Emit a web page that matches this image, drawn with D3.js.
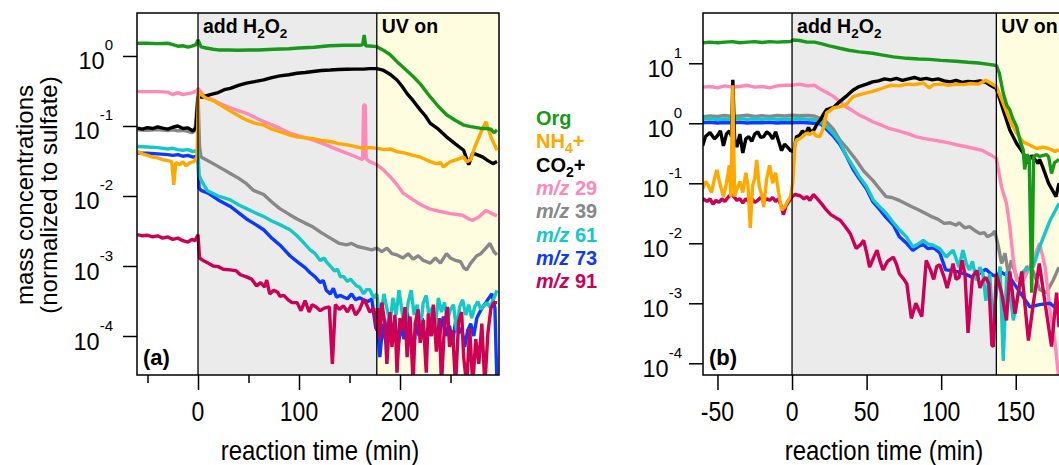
<!DOCTYPE html>
<html><head><meta charset="utf-8">
<script src="https://cdn.jsdelivr.net/npm/d3@7"></script>
<style>
body{margin:0;background:#fff;}
svg{display:block;font-family:"Liberation Sans",Arial,Helvetica,sans-serif;}
</style></head><body>
<svg id="c" width="1059" height="465"></svg>
<script>
// ---------------- DATA ----------------
const seriesKeys = ["mz39","mz29","mz73","mz61","mz91","co2","nh4","org"];
const legendLabels = ["Org","NH4+","CO2+","m/z 29","m/z 39","m/z 61","m/z 73","m/z 91"];
const phasesA = [0, 177];      // add H2O2, UV on (min)
const phasesB = [0, 137];
const xTicksAmajor = [0, 100, 200];
const xTicksAminor = [-50, 50, 150, 250];
const xTicksB = [-50, 0, 50, 100, 150];
const yTicksA = [1, 0.1, 0.01, 0.001, 0.0001];
const yExpA = ["0", "-1", "-2", "-3", "-4"];
const yTicksB = [10, 1, 0.1, 0.01, 0.001, 0.0001];
const yExpB = ["1", "0", "-1", "-2", "-3", "-4"];

// panel (a)
const a_org = [[-60,1.52],[-50,1.52],[-40,1.5],[-30,1.52],[-25,1.45],[-20,1.38],[-15,1.4],[-10,1.34],[-6,1.38],[-2,1.45],[0,1.7],[3,1.35],[8,1.3],[15,1.25],[20,1.22],[30,1.22],[40,1.21],[50,1.22],[60,1.22],[75,1.25],[90,1.27],[100,1.3],[115,1.33],[130,1.4],[145,1.42],[160,1.42],[163,1.45],[164.5,2.0],[166,1.4],[170,1.39],[177,1.36],[183,1.22],[190,1.05],[197,0.83],[205,0.65],[213,0.51],[220,0.4],[230,0.26],[238,0.19],[246,0.145],[255,0.12],[263,0.103],[270,0.098],[279,0.093],[285,0.092],[290,0.09],[293,0.08],[296,0.088]];
const a_co2 = [[-60,0.093],[-55,0.09],[-50,0.095],[-45,0.092],[-40,0.097],[-35,0.093],[-30,0.09],[-25,0.096],[-20,0.1],[-15,0.092],[-10,0.094],[-5,0.085],[-2,0.095],[0,0.26],[5,0.26],[12,0.28],[20,0.3],[26,0.33],[32,0.345],[40,0.38],[48,0.41],[56,0.43],[65,0.455],[73,0.49],[81,0.52],[90,0.54],[98,0.566],[106,0.58],[114,0.6],[122,0.62],[131,0.63],[139,0.64],[147,0.645],[155,0.65],[164,0.65],[170,0.66],[177,0.66],[183,0.63],[190,0.55],[197,0.454],[202,0.37],[207,0.29],[213,0.23],[220,0.17],[225,0.14],[230,0.109],[238,0.09],[246,0.07],[255,0.055],[263,0.045],[268,0.028],[272,0.041],[278,0.038],[282,0.036],[287,0.032],[292,0.029],[296,0.031]];
const a_nh4 = [[-60,0.043],[-55,0.04],[-50,0.038],[-45,0.036],[-40,0.035],[-35,0.033],[-30,0.032],[-26,0.031],[-24,0.0144],[-22,0.03],[-18,0.028],[-15,0.031],[-12,0.027],[-8,0.03],[-4,0.031],[-1,0.036],[0.5,0.31],[3,0.28],[8,0.25],[15,0.23],[22,0.2],[30,0.17],[40,0.14],[48,0.122],[56,0.11],[65,0.103],[73,0.09],[81,0.083],[90,0.075],[98,0.07],[106,0.068],[114,0.066],[122,0.062],[131,0.06],[139,0.056],[147,0.054],[155,0.051],[164,0.048],[170,0.049],[177,0.048],[185,0.046],[190,0.047],[197,0.043],[205,0.041],[213,0.038],[220,0.036],[226,0.033],[230,0.031],[236,0.029],[240,0.03],[243,0.026],[247,0.029],[250,0.031],[256,0.033],[263,0.036],[266,0.031],[270,0.033],[274,0.05],[280,0.08],[285,0.115],[290,0.07],[296,0.045]];
const a_mz29 = [[-60,0.31],[-50,0.31],[-40,0.31],[-30,0.305],[-25,0.28],[-20,0.3],[-15,0.28],[-10,0.29],[-5,0.3],[-1,0.32],[0,0.345],[5,0.28],[15,0.235],[25,0.2],[35,0.175],[48,0.152],[60,0.125],[70,0.108],[81,0.093],[90,0.08],[100,0.072],[114,0.063],[125,0.055],[135,0.048],[147,0.041],[155,0.037],[163,0.033],[164,0.2],[165.5,0.2],[166.5,0.034],[170,0.031],[177,0.028],[183,0.024],[190,0.019],[197,0.0145],[203,0.011],[213,0.0088],[222,0.0073],[230,0.0065],[240,0.006],[250,0.0056],[262,0.0053],[268,0.0047],[272,0.0045],[278,0.005],[285,0.0062],[290,0.0057],[296,0.0052]];
const a_mz39 = [[-60,0.088],[-50,0.087],[-40,0.089],[-30,0.086],[-25,0.088],[-20,0.085],[-15,0.087],[-10,0.084],[-6,0.08],[-3,0.086],[0,0.3],[1.5,0.05],[3,0.036],[8,0.033],[15,0.029],[25,0.024],[32,0.021],[40,0.018],[48,0.015],[55,0.012],[65,0.0105],[73,0.0082],[81,0.0066],[90,0.0055],[98,0.0047],[106,0.0041],[114,0.0036],[122,0.003],[131,0.0025],[140,0.0021],[147,0.002],[152,0.0021],[158,0.0019],[165,0.0018],[172,0.0017],[177,0.0018],[182,0.0016],[187,0.0018],[192,0.0015],[197,0.00144],[203,0.0013],[208,0.0015],[213,0.00125],[218,0.0014],[223,0.0012],[230,0.0011],[235,0.0013],[240,0.0011],[246,0.0015],[250,0.0013],[255,0.0012],[260,0.00115],[263,0.00095],[266,0.00088],[270,0.0011],[276,0.0014],[280,0.0015],[285,0.0018],[289,0.0021],[293,0.0016],[296,0.00144]];
const a_mz61 = [[-60,0.051],[-50,0.05],[-40,0.049],[-30,0.047],[-25,0.048],[-20,0.046],[-15,0.045],[-10,0.046],[-5,0.043],[-1,0.045],[0,0.045],[1,0.02],[3,0.017],[9,0.012],[20,0.01],[32,0.0088],[40,0.0075],[48,0.0066],[56,0.0058],[65,0.0051],[73,0.0044],[81,0.0039],[91,0.0033],[98,0.0027],[104,0.0022],[111,0.0017],[116,0.0015],[121,0.0012],[125,0.0013],[128,0.0011],[131,0.001],[135,0.00085],[138,0.0009],[141,0.0007],[144,0.00071],[148,0.0006],[151,0.00065],[154,0.00058],[157,0.00052],[160,0.0005],[164,0.0004],[167,0.00046],[170,0.00046],[174,0.00035],[177,0.0004],[178,0.0003],[181,0.00018],[184,0.0004],[187,0.00025],[190,0.00015],[193,0.00035],[196,0.0002],[199,0.00045],[202,0.00022],[205,0.00013],[208,0.0003],[211,0.00045],[214,0.0002],[217,0.00028],[220,0.00012],[223,0.0003],[226,0.00038],[229,0.00018],[232,0.00026],[235,0.00014],[238,0.00035],[241,0.00022],[244,0.0003],[247,0.00017],[250,0.00024],[253,0.00028],[256,0.00012],[259,0.00026],[262,0.00033],[265,0.0002],[268,0.00028],[271,0.00018],[274,0.00026],[277,0.00031],[280,0.00024],[283,0.00027],[286,0.0003],[289,0.00026],[292,0.00032],[296,0.00045]];
const a_mz73 = [[-60,0.041],[-50,0.041],[-40,0.04],[-30,0.039],[-25,0.038],[-20,0.039],[-15,0.037],[-10,0.038],[-5,0.036],[-1,0.037],[0,0.037],[1,0.013],[3,0.012],[10,0.011],[20,0.0088],[32,0.0071],[40,0.0058],[48,0.0047],[56,0.004],[65,0.0033],[73,0.0025],[81,0.002],[91,0.0014],[100,0.0011],[106,0.00095],[111,0.0008],[116,0.0007],[121,0.00058],[124,0.00062],[127,0.00045],[131,0.0004],[134,0.00048],[137,0.00036],[141,0.00038],[144,0.00036],[148,0.00034],[152,0.0004],[156,0.00033],[160,0.00035],[164,0.00033],[168,0.00031],[172,0.00034],[176,0.00013],[178,0.00012],[180,0.00005],[183,0.00015],[186,0.00008],[189,0.0002],[192,0.0001],[195,0.00017],[198,0.00007],[201,0.00014],[204,0.00009],[207,0.00022],[210,0.00012],[213,0.00006],[216,0.00015],[219,0.0001],[222,0.00018],[225,0.00008],[228,0.00013],[231,0.0001],[234,0.00016],[237,0.00007],[240,0.00012],[243,0.00019],[246,0.0001],[249,0.00014],[252,0.00008],[255,0.00016],[258,0.00011],[261,0.00013],[264,0.00007],[267,0.00012],[270,0.00015],[273,0.0001],[276,0.00018],[279,0.00022],[282,0.00026],[285,0.0003],[288,0.00035],[291,0.0004],[294,0.00025],[296,0.00002]];
const a_mz91 = [[-60,0.0028],[-55,0.0027],[-50,0.00275],[-45,0.0026],[-40,0.0027],[-35,0.0025],[-30,0.0026],[-25,0.0024],[-20,0.0025],[-15,0.0023],[-10,0.0022],[-6,0.0024],[-3,0.0023],[0,0.0028],[1.5,0.0013],[5,0.0012],[10,0.0011],[15,0.001],[20,0.00098],[25,0.0009],[32,0.00088],[38,0.00085],[42,0.00075],[48,0.0007],[53,0.00065],[58,0.00052],[62,0.00058],[66,0.0005],[68,0.00063],[71,0.0004],[75,0.00045],[79,0.00042],[81,0.00037],[85,0.00038],[89,0.00033],[93,0.0003],[98,0.0003],[102,0.00023],[106,0.00032],[110,0.00022],[113,0.00028],[117,0.00026],[121,0.00023],[125,0.00025],[130,0.00026],[133,0.00004],[136,0.00028],[140,0.00024],[144,0.00027],[148,0.00022],[152,0.00028],[156,0.0002],[160,0.00024],[164,0.00033],[167,0.00028],[170,0.00022],[174,0.00025],[177,0.00012],[178,0.00025],[180,0.00009],[182,0.0003],[185,0.00015],[187,0.00004],[190,0.00022],[192,0.00007],[195,0.0002],[197,0.00003],[200,0.00018],[202,0.00012],[205,0.00026],[207,0.00005],[210,0.00019],[213,0.00002],[215,0.00015],[218,0.00024],[220,0.00008],[223,0.00017],[226,0.00003],[228,0.00021],[231,0.0001],[233,0.00028],[236,0.00006],[239,0.00018],[241,0.00002],[244,0.00014],[247,0.00026],[249,0.00007],[252,0.00012],[255,0.00002],[258,0.00016],[261,0.00022],[263,0.00005],[266,0.00002],[269,0.00013],[272,0.00002],[275,0.00009],[278,0.00004],[281,0.00015],[284,0.00002],[287,0.00011],[290,0.00025],[293,0.0003],[296,0.0003]];

// panel (b)
const b_org = [[-60,22],[-55,22.5],[-50,22],[-45,22.5],[-40,23],[-35,22],[-30,22.5],[-25,23],[-20,22.2],[-15,23],[-10,22.5],[-5,22.8],[-1,23],[1,24.5],[5,24],[10,22.5],[15,22.5],[20,21],[25,19.5],[32,17.8],[38,16.5],[45,15.5],[54,14.7],[60,13.8],[68,12.8],[77,12.1],[85,11.8],[92,11.6],[100,11.2],[110,10.8],[118,10.4],[125,10.1],[132,9.6],[137,9.2],[139,6.8],[141.6,3.2],[144,2.0],[146,1.67],[148,1.2],[150.6,0.88],[153,0.5],[155,0.36],[156,0.17],[157.5,0.3],[159,0.27],[160.7,0.0015],[162,0.28],[164,0.3],[166,0.28],[170.5,0.3],[172,0.28],[174,0.146],[176,0.22],[179,0.25]];
const b_co2 = [[-60,0.42],[-58,0.6],[-55,0.7],[-52,0.55],[-50,0.62],[-48,0.75],[-46,0.42],[-44,0.66],[-42,0.75],[-40.5,0.6],[-39.7,5.3],[-38.5,0.55],[-37,0.4],[-35,0.66],[-33,0.32],[-31,0.55],[-29,0.6],[-27,0.5],[-25,0.66],[-23,0.72],[-21,0.58],[-19,0.6],[-17,0.72],[-15,0.66],[-13,0.55],[-11,0.72],[-9,0.5],[-7,0.35],[-5,0.45],[-3,0.4],[-1,0.35],[1,0.34],[3,0.6],[5,0.62],[7,0.75],[9,0.66],[11,0.85],[13,0.7],[15,0.8],[17,1.0],[19,1.14],[21,1.4],[23,1.67],[25,1.75],[28,1.85],[32,2.3],[36,2.78],[41,3.6],[45,4.1],[50,4.5],[54,4.9],[58,5.1],[62,5.5],[66,5.3],[70,5.6],[74,5.2],[78,5.5],[82,5.8],[86,5.4],[90,5.6],[94,5.3],[98,5.5],[102,5.1],[106,4.9],[110,5.2],[114,4.8],[118,5.0],[122,4.9],[126,5.1],[130,4.8],[133,4.3],[137,3.8],[141.6,1.67],[146,0.77],[150.6,0.46],[155,0.32],[158,0.215],[160.7,0.29],[165,0.215],[166,0.25],[168,0.19],[172,0.1],[177,0.06],[179,0.1]];
const b_nh4 = [[-60,0.08],[-58,0.107],[-56,0.09],[-54,0.07],[-52,0.12],[-50.4,0.167],[-48,0.09],[-46,0.06],[-44,0.1],[-42,0.2],[-41,0.06],[-39.7,4.3],[-38.5,0.06],[-37,0.08],[-35,0.107],[-33,0.07],[-31,0.15],[-29.5,0.09],[-28,0.018],[-26.5,0.09],[-25,0.12],[-23.7,0.245],[-22,0.09],[-20,0.06],[-19,0.04],[-17,0.12],[-15,0.2],[-13,0.1],[-11,0.15],[-9,0.07],[-7,0.036],[-5,0.04],[-3,0.05],[-1,0.06],[0.5,0.1],[2,0.45],[3,0.53],[5,0.55],[7,0.6],[9.8,0.69],[12,0.65],[14.3,0.72],[16,0.62],[18.7,0.6],[21,0.83],[23.2,1.5],[25,1.6],[27.7,1.8],[32,1.9],[36,2.0],[41,2.78],[45.5,3.0],[50,3.2],[54,3.4],[60,3.8],[66,4.3],[72,4.2],[77,4.5],[82,4.4],[88,4.7],[92,3.9],[95,4.4],[100,4.5],[105,4.3],[110,4.5],[115,4.4],[120,4.6],[125,4.5],[130,5.2],[133,4.7],[137,4.1],[141.6,2.16],[146,1.13],[150.6,0.68],[155,0.49],[159.6,0.43],[164,0.38],[168,0.4],[172,0.38],[176.5,0.34],[179,0.36]];
const b_mz29 = [[-60,4.0],[-55,4.1],[-50,3.9],[-45,4.2],[-40,4.0],[-35,4.1],[-30,4.3],[-25,4.0],[-20,4.1],[-15,3.9],[-10,4.2],[-5,4.3],[0,4.3],[5,4.5],[10,4.2],[15,4.3],[19,3.7],[23,3.3],[28,2.78],[32,2.3],[36,1.89],[41,1.6],[45,1.37],[50,1.2],[54,1.06],[60,0.93],[65,0.82],[72,0.74],[77,0.68],[83,0.6],[88,0.56],[94,0.53],[100,0.5],[105,0.47],[111,0.435],[116,0.41],[122,0.38],[128,0.35],[132.8,0.3],[137,0.26],[140.5,0.087],[143.8,0.046],[146,0.019],[148.4,0.0052],[150.6,0.0024],[155,0.0024],[159.6,0.0041],[166,0.01],[169.7,0.0041],[173,0.00076],[176.5,0.00021],[179,0.00005]];
const b_mz39 = [[-60,1.29],[-55,1.32],[-50,1.3],[-45,1.35],[-40,1.3],[-35,1.33],[-30,1.36],[-25,1.3],[-20,1.34],[-15,1.3],[-10,1.35],[-5,1.32],[0,1.36],[5,1.34],[10,1.35],[15,1.32],[19,1.2],[23,1.06],[28,0.78],[32,0.53],[37,0.38],[43,0.245],[48,0.16],[54,0.113],[58,0.085],[63,0.06],[67,0.058],[71,0.053],[76,0.046],[80,0.041],[84,0.037],[87,0.034],[90,0.031],[94,0.0275],[98,0.025],[102,0.0215],[106,0.022],[110,0.02],[112,0.022],[116,0.018],[119,0.019],[122,0.0167],[126,0.0145],[129,0.015],[131,0.0129],[134,0.014],[136,0.016],[138.4,0.0087],[140.5,0.0046],[142.8,0.0068],[145,0.0031],[147,0.0052],[150.6,0.0027],[154,0.0025],[157.4,0.0041],[161.8,0.0034],[166,0.0017],[170.5,0.0015],[175,0.0024],[179,0.004]];
const b_mz61 = [[-60,1.17],[-55,1.2],[-50,1.15],[-45,1.18],[-40,1.17],[-35,1.2],[-30,1.16],[-25,1.19],[-20,1.17],[-15,1.2],[-10,1.16],[-5,1.18],[0,1.17],[5,1.2],[10,1.17],[15,1.15],[18.7,1.06],[23.2,0.87],[28,0.66],[32,0.49],[36,0.3],[41,0.19],[45,0.13],[50,0.088],[54.4,0.053],[59,0.04],[63.4,0.031],[68,0.022],[72.3,0.0165],[76.7,0.0128],[81,0.0087],[84,0.0095],[88,0.0112],[91,0.0098],[94.6,0.0093],[99,0.0082],[103.5,0.0059],[108,0.0077],[112,0.004],[114.6,0.0077],[117,0.0045],[119,0.0036],[121,0.005],[123.5,0.0024],[126,0.004],[128,0.0031],[130,0.0011],[132.5,0.0031],[134.7,0.00046],[137,0.0015],[139.5,0.0041],[141.6,0.00011],[144,0.0034],[146,0.0015],[148.4,0.00052],[151.7,0.0015],[155,0.0034],[161.8,0.0041],[166,0.0087],[173,0.024],[179,0.046]];
const b_mz73 = [[-60,1.02],[-55,1.04],[-50,1.01],[-45,1.03],[-40,1.02],[-35,1.04],[-30,1.01],[-25,1.03],[-20,1.02],[-15,1.04],[-10,1.01],[-5,1.03],[0,1.02],[5,1.04],[10,1.02],[15,1.0],[19,0.98],[23,0.8],[28,0.6],[32,0.45],[36,0.3],[41,0.17],[45,0.12],[50,0.08],[54,0.05],[59,0.036],[63,0.027],[68,0.02],[72,0.0128],[77,0.0099],[81,0.0076],[85,0.009],[88,0.0095],[91,0.0082],[95,0.0084],[99,0.007],[103,0.0036],[108,0.0035],[112,0.0033],[117,0.003],[121,0.0027],[126,0.0032],[130,0.0037],[134,0.003],[137,0.0028],[139.5,0.0034],[146,0.0027],[153,0.0015],[159.6,0.00087],[166,0.00095],[173,0.001],[179,0.00075]];
const b_mz91 = [[-60,0.056],[-57,0.05],[-55,0.055],[-53,0.045],[-51,0.052],[-49,0.048],[-47,0.055],[-45,0.05],[-43,0.058],[-41,0.065],[-39,0.06],[-37,0.052],[-35,0.055],[-33,0.047],[-31,0.055],[-29,0.05],[-27,0.056],[-25,0.048],[-23,0.052],[-21,0.058],[-19,0.05],[-17,0.055],[-15,0.052],[-13,0.058],[-11,0.05],[-9,0.055],[-7,0.04],[-5.8,0.03],[-4,0.042],[-2,0.05],[0,0.06],[2,0.065],[5.4,0.062],[8,0.055],[10,0.06],[12,0.052],[14.3,0.065],[17,0.055],[20,0.045],[23,0.036],[26,0.03],[29,0.027],[32,0.0245],[35,0.02],[39,0.0146],[41,0.011],[43,0.0082],[46,0.0095],[48,0.0112],[50,0.007],[52,0.004],[55,0.006],[57,0.0077],[59,0.005],[61,0.0036],[64,0.005],[68,0.0059],[70,0.0045],[72,0.0031],[75,0.0025],[77,0.0021],[80,0.00056],[83,0.001],[87,0.0006],[90,0.0052],[93,0.0035],[95,0.0025],[97,0.0041],[99,0.0044],[102,0.0027],[104,0.0018],[106,0.0028],[108,0.0046],[110,0.0025],[112,0.0027],[114,0.0052],[116,0.003],[118,0.00032],[121,0.0028],[124,0.0035],[126,0.0018],[128,0.0024],[130,0.0027],[132,0.0021],[134,0.0002],[135,0.00019],[137,0.0031],[140.5,0.0015],[143.8,0.00052],[146,0.0034],[149.5,0.00067],[154,0.0034],[158.5,0.00024],[161.8,0.001],[165.8,0.0046],[169.7,0.001],[174,0.00019],[177.4,0.0015],[179,0.0004]];

const colors = {org:"#17991A", nh4:"#FFA800", co2:"#000000", mz29:"#FF88B8", mz39:"#888888", mz61:"#14C8C8", mz73:"#0A3AFF", mz91:"#CC0055"};
const legendKeys = ["org","nh4","co2","mz29","mz39","mz61","mz73","mz91"];

const dataA = {org:a_org, nh4:a_nh4, co2:a_co2, mz29:a_mz29, mz39:a_mz39, mz61:a_mz61, mz73:a_mz73, mz91:a_mz91};
const dataB = {org:b_org, nh4:b_nh4, co2:b_co2, mz29:b_mz29, mz39:b_mz39, mz61:b_mz61, mz73:b_mz73, mz91:b_mz91};

// ---------------- DRAW ----------------
const svg = d3.select("#c");
const TOP = 13, BOT = 375;

function drawPanel(cfg){
  const x = d3.scaleLinear().domain(cfg.xdom).range([cfg.left, cfg.right]);
  const y = d3.scaleLog().domain(cfg.ydom).range([BOT, TOP]);
  const g = svg.append("g");
  g.append("clipPath").attr("id", cfg.id+"clip").append("rect")
    .attr("x", cfg.left).attr("y", TOP).attr("width", cfg.right-cfg.left).attr("height", BOT-TOP);
  const pg = g.append("g").attr("clip-path", `url(#${cfg.id}clip)`);
  pg.append("rect").attr("x", x(cfg.phases[0])).attr("y", TOP)
    .attr("width", x(cfg.phases[1]) - x(cfg.phases[0])).attr("height", BOT-TOP).attr("fill", "#EBEBEB");
  pg.append("rect").attr("x", x(cfg.phases[1])).attr("y", TOP)
    .attr("width", cfg.right - x(cfg.phases[1])).attr("height", BOT-TOP).attr("fill", "#FFFDDF");
  const line = d3.line().x(d => x(d[0])).y(d => y(Math.max(d[1], 1e-7)));
  seriesKeys.forEach(k => {
    pg.append("path").datum(cfg.data[k]).attr("d", line)
      .attr("fill", "none").attr("stroke", colors[k]).attr("stroke-width", 3.4)
      .attr("stroke-linejoin", "bevel");
  });
  cfg.phases.forEach(p => {
    g.append("line").attr("x1", x(p)).attr("x2", x(p)).attr("y1", TOP).attr("y2", BOT)
      .attr("stroke", "#000").attr("stroke-width", 1.3);
  });
  g.append("rect").attr("x", cfg.left).attr("y", TOP).attr("width", cfg.right-cfg.left)
    .attr("height", BOT-TOP).attr("fill", "none").attr("stroke", "#000").attr("stroke-width", 1.5);

  // y axis
  const ya = g.append("g").attr("transform", `translate(${cfg.left},0)`)
    .call(d3.axisLeft(y).tickValues(cfg.yticks).tickSize(14).tickFormat(""));
  ya.select(".domain").remove();
  ya.selectAll(".tick line").attr("stroke-width", 1.5);
  cfg.yticks.forEach((v, i) => {
    const t = g.append("text").attr("x", cfg.left - cfg.ypad).attr("y", y(v) + 13.5)
      .attr("text-anchor", "end").attr("font-size", 23.5).attr("fill", "#000");
    t.append("tspan").text("10");
    t.append("tspan").attr("dy", -19).attr("font-size", 15).text(cfg.yexp[i]);
  });

  // x axis
  const xa = g.append("g").attr("transform", `translate(0,${BOT})`)
    .call(d3.axisBottom(x).tickValues(cfg.xmajor).tickSize(15).tickFormat(""));
  xa.select(".domain").remove();
  xa.selectAll(".tick line").attr("stroke-width", 1.5);
  if (cfg.xminor.length){
    const xm = g.append("g").attr("transform", `translate(0,${BOT})`)
      .call(d3.axisBottom(x).tickValues(cfg.xminor).tickSize(8).tickFormat(""));
    xm.select(".domain").remove();
    xm.selectAll(".tick line").attr("stroke-width", 1.5);
  }
  cfg.xmajor.forEach(v => {
    g.append("text").attr("transform", `translate(${x(v)},421) scale(1,1.18)`)
      .attr("text-anchor", "middle").attr("font-size", 23).text(v);
  });
  g.append("text").attr("transform", `translate(${cfg.titleX},460) scale(1,1.12)`)
    .attr("text-anchor", "middle").attr("font-size", 24).text("reaction time (min)");

  // annotations
  const ann = g.append("text").attr("x", x(cfg.phases[0]) + 5).attr("y", 33)
    .attr("font-size", 19.5).attr("font-weight", "bold");
  ann.append("tspan").text("add H");
  ann.append("tspan").attr("dy", 5).attr("font-size", 13.5).text("2");
  ann.append("tspan").attr("dy", -5).text("O");
  ann.append("tspan").attr("dy", 5).attr("font-size", 13.5).text("2");
  g.append("text").attr("x", x(cfg.phases[1]) + 5).attr("y", 33)
    .attr("font-size", 19.5).attr("font-weight", "bold").text("UV on");
  g.append("text").attr("x", cfg.left + 6).attr("y", 365)
    .attr("font-size", 22).attr("font-weight", "bold").text(cfg.label);
}

drawPanel({id:"a", left:137, right:499, xdom:[-60.4, 298], ydom:[Math.pow(10,-4.557), Math.pow(10,0.614)],
  data:dataA, phases:phasesA, yticks:yTicksA, yexp:yExpA, xmajor:xTicksAmajor, xminor:xTicksAminor,
  titleX:320, label:"(a)", ypad:24});
drawPanel({id:"b", left:703, right:1100, xdom:[-59.7, 206.5], ydom:[Math.pow(10,-4.195), Math.pow(10,1.838)],
  data:dataB, phases:phasesB, yticks:yTicksB, yexp:yExpB, xmajor:xTicksB, xminor:[],
  titleX:884, label:"(b)", ypad:21});

// y-axis title
const yt = svg.append("g").attr("transform", "translate(33,195) rotate(-90)");
yt.append("text").attr("text-anchor", "middle").attr("font-size", 24).text("mass concentrations");
yt.append("text").attr("y", 24).attr("text-anchor", "middle").attr("font-size", 24).text("(normalized to sulfate)");

// legend
const lg = svg.append("g").attr("font-size", 20).attr("font-weight", "bold");
legendKeys.forEach((k, i) => {
  const t = lg.append("text").attr("x", 536).attr("y", 125 + i*23.3).attr("fill", colors[k]);
  const lab = legendLabels[i];
  if (lab.startsWith("m/z")) {
    t.append("tspan").attr("font-style", "italic").text("m/z");
    t.append("tspan").text(lab.slice(3));
  } else if (lab === "NH4+") {
    t.append("tspan").text("NH");
    t.append("tspan").attr("dy", 5).attr("font-size", 14).text("4");
    t.append("tspan").attr("dy", -5).text("+");
  } else if (lab === "CO2+") {
    t.append("tspan").text("CO");
    t.append("tspan").attr("dy", 5).attr("font-size", 14).text("2");
    t.append("tspan").attr("dy", -5).text("+");
  } else {
    t.text(lab);
  }
});
</script>
</body></html>
